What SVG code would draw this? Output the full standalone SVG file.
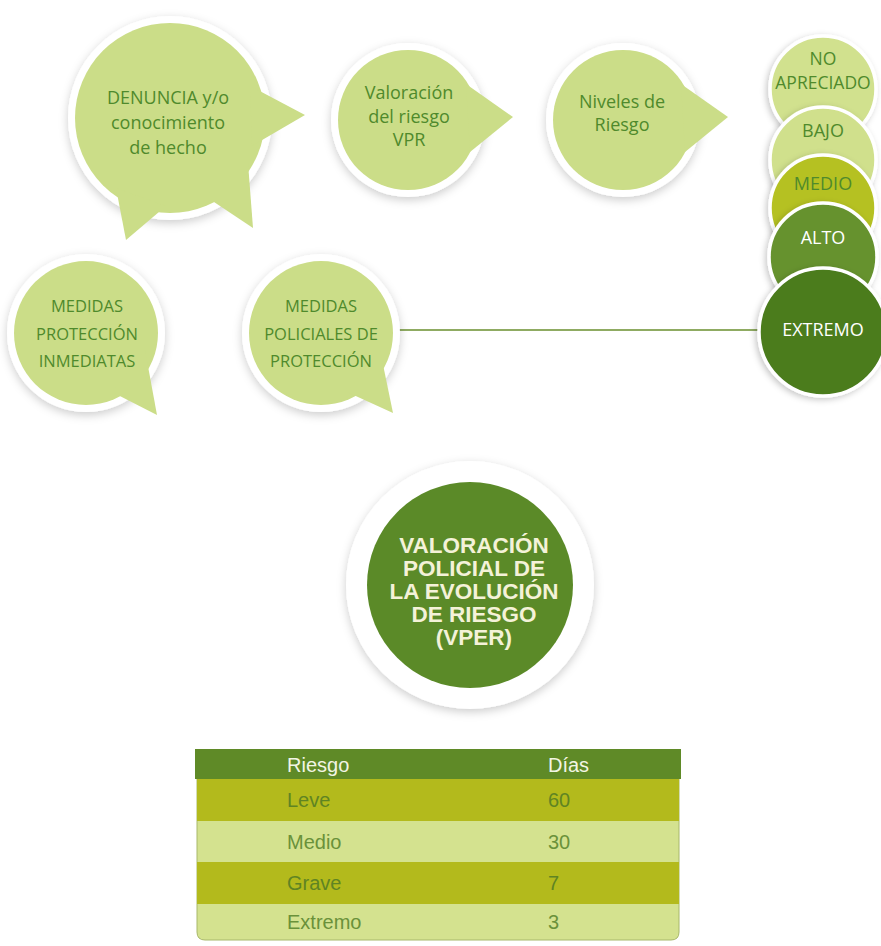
<svg xmlns="http://www.w3.org/2000/svg" width="881" height="946" viewBox="0 0 881 946">
<defs>
<filter id="sh" x="-25%" y="-25%" width="150%" height="150%">
<feDropShadow dx="0" dy="3" stdDeviation="5" flood-color="#000" flood-opacity="0.2"/>
</filter>
<filter id="sh2" x="-25%" y="-25%" width="150%" height="150%">
<feDropShadow dx="-2" dy="2" stdDeviation="3" flood-color="#000" flood-opacity="0.22"/>
</filter>
<style>
.ring{fill:#ffffff;filter:url(#sh);}
.bf{fill:#cbdd88;}
.bt{font-family:"Open Sans","Liberation Sans",sans-serif;font-size:18px;fill:#4f8a2c;text-anchor:middle;}
.mt{font-size:16.5px;}
.rc{stroke:#ffffff;stroke-width:3.5;filter:url(#sh2);}
.rt{font-family:"Open Sans","Liberation Sans",sans-serif;font-size:18px;text-anchor:middle;}
.rs{font-size:17.5px;}
.vt{font-family:"Liberation Sans",Arial,sans-serif;font-weight:bold;font-size:22.5px;fill:#f4f2d8;text-anchor:middle;}
.tt{font-family:"Liberation Sans",Arial,sans-serif;font-size:20px;}
.conn{stroke:#6a8f2e;stroke-width:1.6;fill:none;}
</style>
</defs>
<rect width="881" height="946" fill="#ffffff"/>

<g id="connectors">
<line class="conn" x1="392" y1="330" x2="762" y2="330"/>
</g>

<g id="denuncia">
<circle class="ring" cx="170" cy="118" r="102"/>
<circle class="bf" cx="170" cy="118" r="95"/>
<polygon class="bf" points="250,86 305,115 252,146"/>
<polygon class="bf" points="116,188 126,240 166,206"/>
<polygon class="bf" points="205,196 253,228 248,163"/>
<text class="bt" x="168" y="104">DENUNCIA y/o</text>
<text class="bt" x="168" y="129">conocimiento</text>
<text class="bt" x="168" y="154">de hecho</text>
</g>

<g id="valoracion">
<circle class="ring" cx="408" cy="120" r="77"/>
<circle class="bf" cx="408" cy="120" r="70"/>
<polygon class="bf" points="466,84 513,117 470,152"/>
<text class="bt" x="409" y="99">Valoración</text>
<text class="bt" x="409" y="123">del riesgo</text>
<text class="bt" x="409" y="146">VPR</text>
</g>

<g id="niveles">
<circle class="ring" cx="623" cy="120" r="77"/>
<circle class="bf" cx="623" cy="120" r="70"/>
<polygon class="bf" points="681,84 728,117 685,152"/>
<text class="bt" x="622" y="108">Niveles de</text>
<text class="bt" x="622" y="131">Riesgo</text>
</g>

<g id="medidas-inmediatas">
<circle class="ring" cx="86" cy="333" r="79"/>
<circle class="bf" cx="86" cy="333" r="72"/>
<polygon class="bf" points="145,350 157,415 112,392"/>
<text class="bt mt" x="87" y="312">MEDIDAS</text>
<text class="bt mt" x="87" y="340">PROTECCIÓN</text>
<text class="bt mt" x="87" y="367">INMEDIATAS</text>
</g>

<g id="medidas-policiales">
<circle class="ring" cx="321" cy="333" r="79"/>
<circle class="bf" cx="321" cy="333" r="72"/>
<polygon class="bf" points="380,350 393,413 347,392"/>
<text class="bt mt" x="321" y="312">MEDIDAS</text>
<text class="bt mt" x="321" y="340">POLICIALES DE</text>
<text class="bt mt" x="321" y="367">PROTECCIÓN</text>
</g>

<g id="no-apreciado">
<circle class="rc" cx="823" cy="89" r="53" fill="#d1e18e"/>
<text class="rt rs" x="823" y="65" fill="#4f8a2c">NO</text>
<text class="rt rs" x="823" y="89" fill="#4f8a2c">APRECIADO</text>
</g>
<g id="bajo">
<circle class="rc" cx="823" cy="160" r="53" fill="#d0e08c"/>
<text class="rt" x="823" y="137" fill="#4f8a2c">BAJO</text>
</g>
<g id="medio">
<circle class="rc" cx="823" cy="208" r="53" fill="#b5c124"/>
<text class="rt" x="823" y="190" fill="#4f8a2c">MEDIO</text>
</g>
<g id="alto">
<circle class="rc" cx="823" cy="257" r="54" fill="#66922f"/>
<text class="rt" x="823" y="244" fill="#ffffff">ALTO</text>
</g>
<g id="extremo">
<circle class="rc" cx="823" cy="332" r="64" fill="#4b7b1f"/>
<text class="rt" x="823" y="336" fill="#ffffff">EXTREMO</text>
</g>

<g id="vper">
<circle class="ring" cx="470" cy="585" r="124" fill="#fbfbf8"/>
<circle cx="470" cy="585" r="103" fill="#5b8a28"/>
<text class="vt" x="474" y="553">VALORACIÓN</text>
<text class="vt" x="474" y="576">POLICIAL DE</text>
<text class="vt" x="474" y="599">LA EVOLUCIÓN</text>
<text class="vt" x="474" y="622">DE RIESGO</text>
<text class="vt" x="474" y="645">(VPER)</text>
</g>

<g id="tabla">
<path d="M197,779 H679 V932 Q679,940 671,940 H205 Q197,940 197,932 Z" fill="#d4e28f" stroke="#a8b86a" stroke-width="1"/>
<rect x="197" y="779" width="482" height="42" fill="#b3ba1c"/>
<rect x="197" y="862" width="482" height="42" fill="#b3ba1c"/>
<rect x="195" y="749" width="486" height="30" fill="#5f8a27"/>
<text class="tt" x="287" y="772" fill="#f2f5e4">Riesgo</text>
<text class="tt" x="548" y="772" fill="#f2f5e4">Días</text>
<text class="tt" x="287" y="807" fill="#5f8423">Leve</text>
<text class="tt" x="548" y="807" fill="#5f8423">60</text>
<text class="tt" x="287" y="849" fill="#6a913a">Medio</text>
<text class="tt" x="548" y="849" fill="#6a913a">30</text>
<text class="tt" x="287" y="890" fill="#5f8423">Grave</text>
<text class="tt" x="548" y="890" fill="#5f8423">7</text>
<text class="tt" x="287" y="929" fill="#6a913a">Extremo</text>
<text class="tt" x="548" y="929" fill="#6a913a">3</text>
</g>
</svg>
